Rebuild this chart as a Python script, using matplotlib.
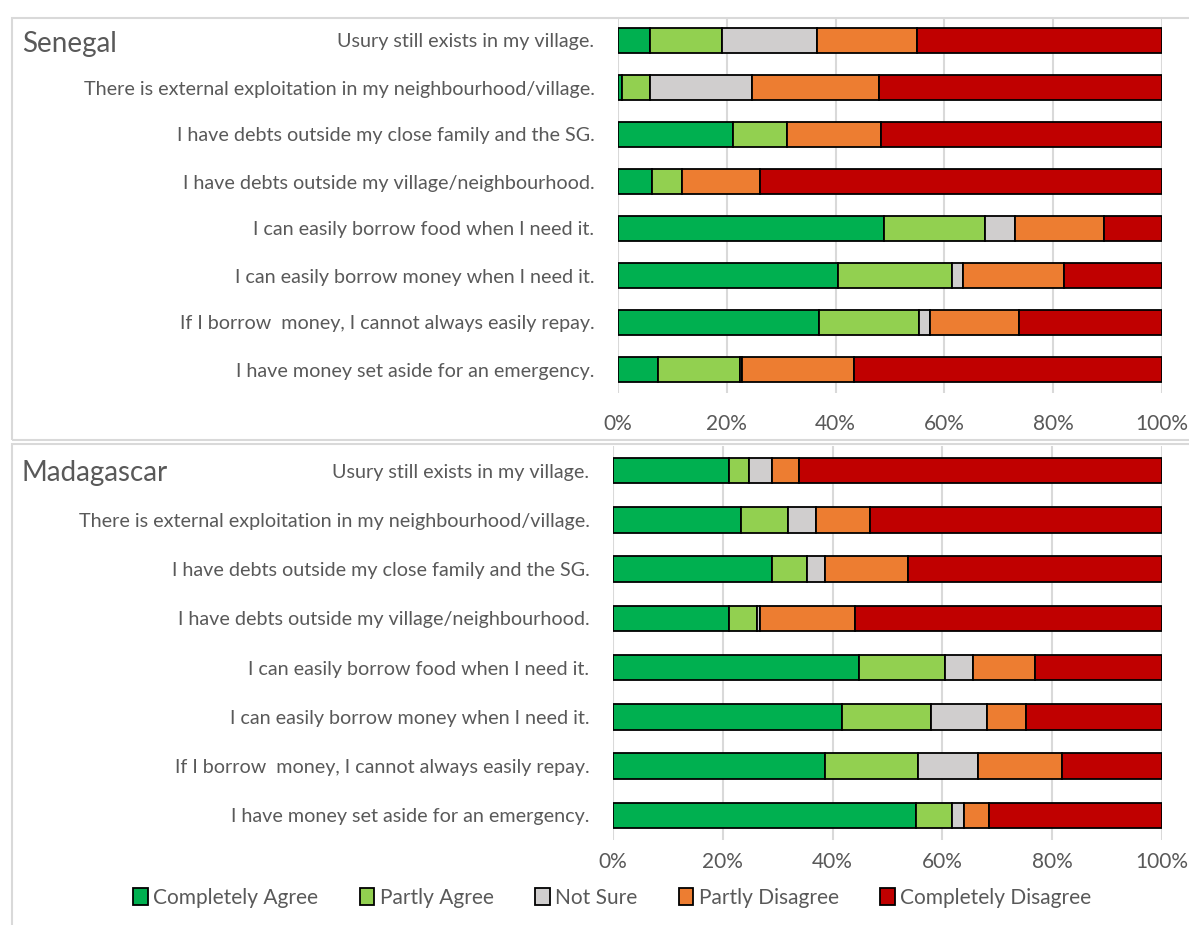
import matplotlib.pyplot as plt
from matplotlib.patches import Rectangle, Patch

plt.rcParams['font.family'] = ['Lato', 'DejaVu Sans']

statements = [
    'Usury still exists in my village.',
    'There is external exploitation in my neighbourhood/village.',
    'I have debts outside my close family and the SG.',
    'I have debts outside my village/neighbourhood.',
    'I can easily borrow food when I need it.',
    'I can easily borrow money when I need it.',
    'If I borrow  money, I cannot always easily repay.',
    'I have money set aside for an emergency.',
]
answers = ['Completely Agree', 'Partly Agree', 'Not Sure', 'Partly Disagree', 'Completely Disagree']
colors = ['#00b050', '#92d050', '#d0cece', '#ed7d31', '#c00000']

# shares in % per statement: CA, PA, NS, PD, CD
senegal = [
    [5.8, 13.3, 17.4, 18.4, 45.1],
    [0.8, 5.0, 18.8, 23.3, 52.1],
    [21.1, 10.0, 0.0, 17.3, 51.6],
    [6.2, 5.5, 0.0, 14.4, 73.9],
    [48.9, 18.5, 5.5, 16.5, 10.6],
    [40.4, 21.0, 2.1, 18.5, 18.0],
    [37.0, 18.4, 2.0, 16.3, 26.3],
    [7.3, 15.1, 0.4, 20.6, 56.6],
]
madagascar = [
    [21.2, 3.6, 4.1, 5.0, 66.1],
    [23.4, 8.4, 5.1, 10.0, 53.1],
    [28.9, 6.5, 3.2, 15.2, 46.2],
    [21.2, 5.0, 0.6, 17.3, 55.9],
    [44.8, 15.7, 5.1, 11.2, 23.2],
    [41.8, 16.2, 10.2, 7.1, 24.7],
    [38.7, 16.9, 10.8, 15.3, 18.3],
    [55.2, 6.6, 2.1, 4.6, 31.5],
]

TXT = '#595959'
GRID = '#d9d9d9'

fig = plt.figure(figsize=(11.89, 9.25), dpi=100)

# light frames around the two chart areas
fig.patches.append(Rectangle((12 / 1189, 1 - 440 / 925), 1.2, 422 / 925, transform=fig.transFigure,
                             fill=False, edgecolor=GRID, lw=1.5))
fig.patches.append(Rectangle((12 / 1189, -0.1), 1.2, 0.1 + 481 / 925, transform=fig.transFigure,
                             fill=False, edgecolor=GRID, lw=1.5))


def draw_panel(ax, data, title, xlab_pad):
    n = len(statements)
    ypos = list(range(n))
    left = [0.0] * n
    for k, name in enumerate(answers):
        vals = [row[k] for row in data]
        ax.barh(ypos, vals, left=left, height=0.52, color=colors[k],
                edgecolor='black', linewidth=1.3, label=name, zorder=3)
        left = [l + v for l, v in zip(left, vals)]
    ax.set_ylim(n - 0.5, -0.5)
    ax.set_xlim(0, 100)
    ax.set_yticks(ypos)
    ax.set_yticklabels(statements, fontsize=14.2, color=TXT)
    ax.set_xticks([0, 20, 40, 60, 80, 100])
    ax.set_xticklabels(['0%', '20%', '40%', '60%', '80%', '100%'], fontsize=15, color=TXT)
    ax.tick_params(axis='both', length=0)
    ax.tick_params(axis='y', pad=17)
    ax.tick_params(axis='x', pad=xlab_pad)
    ax.grid(axis='x', color=GRID, lw=1.5, zorder=0)
    for s in ax.spines.values():
        s.set_visible(False)
    fig.text(22 / 1189, ax.get_position().y1 - 0.029, title, fontsize=20, color=TXT, va='center')


ax1 = fig.add_axes([618 / 1189, 1 - 393 / 925, 544 / 1189, 376 / 925])
draw_panel(ax1, senegal, 'Senegal', 15)

ax2 = fig.add_axes([613 / 1189, 1 - 840 / 925, 549 / 1189, 394 / 925])
draw_panel(ax2, madagascar, 'Madagascar', 9)

handles = [Patch(facecolor=c, edgecolor='black', linewidth=1.3) for c in colors]
leg = fig.legend(handles, answers, loc='center', bbox_to_anchor=(0.515, 1 - 898 / 925), ncol=5,
                 frameon=False, fontsize=15, handlelength=0.7, handleheight=0.9,
                 handletextpad=0.25, columnspacing=2.0)
for t in leg.get_texts():
    t.set_color(TXT)

fig.savefig('out.png', dpi=100)
